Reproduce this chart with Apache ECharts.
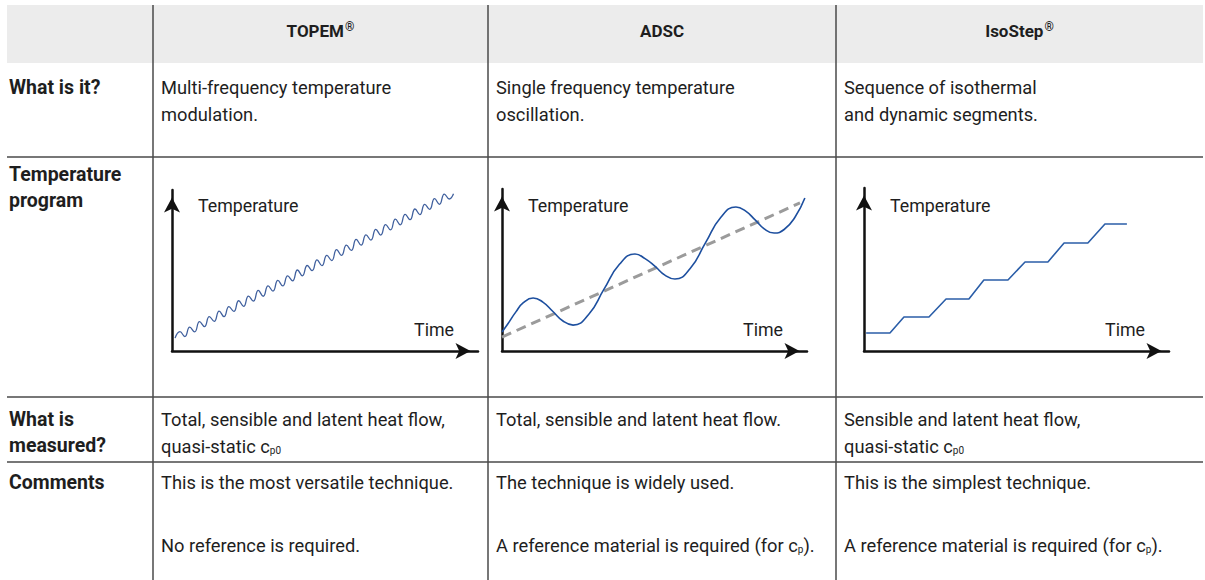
<!DOCTYPE html>
<html><head><meta charset="utf-8">
<script src="https://cdn.jsdelivr.net/npm/echarts@6/dist/echarts.min.js"></script>
<style>html,body{margin:0;padding:0;background:#fff}#c{width:1205px;height:580px}</style>
</head><body><div id="c"></div>
<script>
// ---- data ----
const techniques = ['TOPEM', 'ADSC', 'IsoStep'];
const techniqueMarks = ['®', '', '®'];
const rowLabels = [['What is it?'], ['Temperature', 'program'], ['What is', 'measured?'], ['Comments']];
const whatIsIt = [
  ['Multi-frequency temperature', 'modulation.'],
  ['Single frequency temperature', 'oscillation.'],
  ['Sequence of isothermal', 'and dynamic segments.']
];
const whatIsMeasured = [
  ['Total, sensible and latent heat flow,', '{n|quasi-static c}{s|p0}'],
  ['Total, sensible and latent heat flow.'],
  ['Sensible and latent heat flow,', '{n|quasi-static c}{s|p0}']
];
const comments = [
  ['This is the most versatile technique.', 'No reference is required.'],
  ['The technique is widely used.', '{n|A reference material is required (for c}{s|p}{n|).}'],
  ['This is the simplest technique.', '{n|A reference material is required (for c}{s|p}{n|).}']
];
const axisNameY = 'Temperature';
const axisNameX = 'Time';

// [time, temperature] in relative units (0-100)
const topemTemp = [[1.0,8.0],[2.6,12.0],[4.2,9.0],[5.8,14.8],[7.4,11.9],[9.0,18.2],[10.6,15.2],[12.2,21.4],[13.8,18.4],[15.4,24.8],[17.0,21.3],[18.6,27.6],[20.2,24.6],[21.8,31.2],[23.4,27.7],[25.0,34.1],[26.6,31.0],[28.2,37.6],[29.8,34.0],[31.4,40.5],[33.0,37.2],[34.6,43.9],[36.2,40.4],[37.8,46.6],[39.4,43.6],[41.0,50.3],[42.6,46.7],[44.2,53.1],[45.8,49.9],[47.4,56.6],[49.0,53.0],[50.6,59.4],[52.2,56.2],[53.8,63.0],[55.4,59.4],[57.0,65.7],[58.6,62.5],[60.2,69.3],[61.8,65.7],[63.4,72.1],[65.0,68.9],[66.6,75.6],[68.2,72.0],[69.8,78.5],[71.4,75.2],[73.0,81.9],[74.6,78.4],[76.2,84.8],[77.8,81.6],[79.4,88.2],[81.0,84.7],[82.6,91.1],[84.2,88.0],[85.8,94.6],[87.4,91.1],[89.0,97.5],[90.6,94.4],[92.0,97.6]];
const adscTemp = [[0,11.7],[2,17],[4.5,24],[7,29.8],[10.2,32.7],[13.4,30.2],[16.7,24.4],[20.0,18.5],[23.3,16.0],[28.4,22.5],[33.4,38.0],[38.5,53.5],[43.6,59.9],[46.9,57.0],[50.2,52.2],[53.4,46.8],[56.7,44.4],[61.7,50.9],[66.7,66.7],[71.7,82.4],[76.7,88.9],[79.8,86.5],[83.0,80.9],[86.1,75.2],[89.2,72.8],[92.5,75.0],[96.1,82.7],[99.3,94.4]];
const adscTrend = [[0,8.6],[97.7,91.4]];
const isoStepTemp = [[0.7,11.0],[8.5,11.0],[13.1,20.9],[21.3,20.9],[26.9,31.9],[34.4,31.9],[39.3,43.6],[47.2,43.6],[52.8,54.6],[60.3,54.6],[65.6,66.3],[73.4,66.3],[79.0,77.9],[86.2,77.9]];

// ---- layout ----
const FONT = 'Roboto';
const FS = 18.3;
const INK = '#1e1e1e';
const colLines = [153, 488, 836];
const tableLeft = 7, tableRight = 1203, headerTop = 5, headerBottom = 63;
const rowLines = [157, 397, 462];
const cellX = [161, 496, 844];

const g = [];
g.push({type:'rect', z:-10, shape:{x:tableLeft, y:headerTop, width:tableRight-tableLeft, height:headerBottom-headerTop}, style:{fill:'#ececec'}});
colLines.forEach(x => g.push({type:'line', shape:{x1:x, y1:headerTop, x2:x, y2:580}, style:{stroke:'#4a4a4a', lineWidth:1.5}}));
rowLines.forEach(y => g.push({type:'line', shape:{x1:tableLeft, y1:y, x2:tableRight, y2:y}, style:{stroke:'#4a4a4a', lineWidth:1.5}}));

function txt(x, y, text, extra) {
  return {type:'text', x, y, silent:true, style:Object.assign({
    text, fill:INK, fontFamily:FONT, fontSize:FS, align:'left', verticalAlign:'middle',
    rich:{
      n:{fontFamily:FONT, fontSize:FS, fill:INK},
      s:{fontFamily:FONT, fontSize:10, fill:INK, padding:[8,0,0,0]}
    }
  }, extra||{})};
}
// header
const colCenters = [ (153+488)/2, (488+836)/2, (836+tableRight)/2 ];
techniques.forEach((t,i) => {
  g.push({type:'text', x:colCenters[i], y:31, silent:true, style:{
    text:'{h|'+t+'}' + (techniqueMarks[i] ? '{r|'+techniqueMarks[i]+'}' : ''),
    align:'center', verticalAlign:'middle',
    rich:{h:{fontFamily:FONT, fontWeight:'bold', fontSize:17, fill:INK},
          r:{fontFamily:FONT, fontWeight:'bold', fontSize:12, fill:INK, padding:[0,0,9,1]}}
  }});
});
// row labels
const labelY = [[87], [174, 200], [419, 445], [482]];
rowLabels.forEach((lines, r) => lines.forEach((l, k) =>
  g.push(txt(9, labelY[r][k], l, {fontWeight:'bold', fontSize:19.5}))));
// cells
whatIsIt.forEach((lines, c) => lines.forEach((l, k) => g.push(txt(cellX[c], 87 + k*27, l))));
whatIsMeasured.forEach((lines, c) => lines.forEach((l, k) => g.push(txt(cellX[c], 419 + k*27, l))));
comments.forEach((lines, c) => lines.forEach((l, k) => g.push(txt(cellX[c], 482 + k*63, l))));

// mini charts: grid geometry (axis origin and arrow tips)
const grids = [
  {left:172, top:190, width:306, height:161},
  {left:502, top:189, width:305, height:162},
  {left:864, top:188, width:305, height:163}
];
grids.forEach(gr => {
  g.push(txt(gr.left + 26, 205, axisNameY, {fontSize:17.8}));
  g.push(txt(gr.left + gr.width - 24, 329, axisNameX, {align:'right', fontSize:17.8}));
});

const axisLine = {show:true, onZero:false, symbol:['none','arrow'], symbolSize:[12,15], symbolOffset:[0,-7.5],
  lineStyle:{color:'#111', width:2.5}};
const mkX = i => ({type:'value', gridIndex:i, min:0, max:100, axisLine, axisTick:{show:false}, axisLabel:{show:false}, splitLine:{show:false}});
const mkY = i => ({type:'value', gridIndex:i, min:0, max:100, axisLine, axisTick:{show:false}, axisLabel:{show:false}, splitLine:{show:false}});

const chart = echarts.init(document.getElementById('c'), null, {renderer:'svg'});
chart.setOption({
  animation:false,
  backgroundColor:'#fff',
  grid: grids.map(gr => Object.assign({containLabel:false}, gr)),
  xAxis:[mkX(0), mkX(1), mkX(2)],
  yAxis:[mkY(0), mkY(1), mkY(2)],
  series:[
    {type:'line', xAxisIndex:0, yAxisIndex:0, data:topemTemp, smooth:0.5, showSymbol:false, lineStyle:{color:'#40609e', width:1.3}},
    {type:'line', xAxisIndex:1, yAxisIndex:1, data:adscTrend, showSymbol:false, lineStyle:{color:'#9b9b9b', width:3, type:[10,6]}},
    {type:'line', xAxisIndex:1, yAxisIndex:1, data:adscTemp, smooth:0.5, showSymbol:false, lineStyle:{color:'#1d4f9f', width:1.6}},
    {type:'line', xAxisIndex:2, yAxisIndex:2, data:isoStepTemp, showSymbol:false, lineStyle:{color:'#2b5ea8', width:1.6}}
  ],
  graphic: g
});
</script></body></html>
